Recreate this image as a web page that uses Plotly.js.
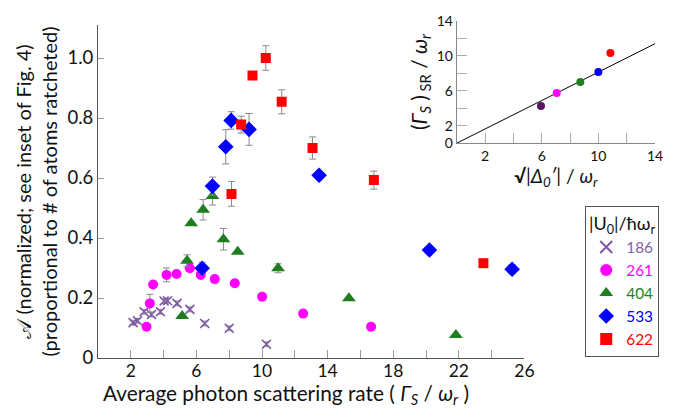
<!DOCTYPE html>
<html>
<head>
<meta charset="utf-8">
<script src="https://cdn.plot.ly/plotly-3.0.1.min.js"></script>
<style>html,body{margin:0;padding:0;background:#fff;}#chart{width:675px;height:409px;}</style>
</head>
<body>
<div id="chart"></div>
<script>
// ---- Main plot data: |U0|/ħωr series ----
const seriesNames = ["186", "261", "404", "533", "622"];

const x186 = [2.14, 2.41, 2.81, 3.26, 3.81, 4.03, 4.24, 4.82, 5.60, 6.51, 8.00, 10.27];
const y186 = [0.118, 0.124, 0.154, 0.145, 0.154, 0.190, 0.191, 0.182, 0.162, 0.115, 0.099, 0.046];
const e186 = [0.008, 0.008, 0.008, 0.008, 0.008, 0.008, 0.008, 0.008, 0.008, 0.008, 0.008, 0.008];

const x261 = [2.96, 3.16, 3.36, 4.18, 4.79, 5.60, 6.27, 7.12, 8.34, 10.01, 12.51, 16.65];
const y261 = [0.104, 0.182, 0.245, 0.277, 0.280, 0.299, 0.277, 0.263, 0.249, 0.204, 0.148, 0.104];
const e261 = [0, 0.030, 0, 0.023, 0, 0, 0, 0, 0, 0.010, 0, 0];

const x404 = [5.13, 5.43, 5.68, 6.41, 6.98, 7.65, 8.52, 10.98, 15.30, 21.82];
const y404 = [0.140, 0.324, 0.449, 0.494, 0.540, 0.396, 0.354, 0.299, 0.199, 0.077];
const e404 = [0, 0.020, 0, 0.034, 0.030, 0.036, 0, 0.015, 0, 0];

const x533 = [6.35, 6.98, 7.79, 8.12, 9.21, 13.48, 20.21, 25.25];
const y533 = [0.299, 0.573, 0.704, 0.792, 0.762, 0.609, 0.360, 0.296];
const e533 = [0.020, 0.030, 0.057, 0.029, 0.053, 0, 0, 0.015];

const x622 = [8.14, 8.73, 9.42, 10.23, 11.20, 13.08, 16.82, 23.50];
const y622 = [0.547, 0.778, 0.942, 1.000, 0.854, 0.700, 0.593, 0.316];
const e622 = [0.041, 0.028, 0.008, 0.041, 0.040, 0.037, 0.030, 0];

// ---- Inset data ----
const insetX = [5.95, 7.06, 8.73, 10.00, 10.85];
const insetY = [4.25, 5.74, 7.00, 8.15, 10.30];
const insetColors = ["#5b1560", "#ff00ff", "#1e821e", "#0000ff", "#ff0000"];
const fitX = [0, 14];
const fitY = [0, 11.37];

// ---- Ticks ----
const mainXTicks = [2, 6, 10, 14, 18, 22, 26];
const mainXMinor = [4, 8, 12, 16, 20, 24];
const mainYTicks = [0, 0.2, 0.4, 0.6, 0.8, 1.0];
const mainYText = ["0", "0.2", "0.4", "0.6", "0.8", "1.0"];
const insetXTicks = [2, 6, 10, 14];
const insetXMinor = [4, 8, 12];
const insetYTicks = [0, 2, 6, 10, 14];
const insetYMinor = [4, 8, 12];

const FONT = "Lato, 'Open Sans', sans-serif";
const errStyle = {type: "data", visible: true, color: "#8a8a8a", thickness: 1, width: 3.5};

function err(arr) { return Object.assign({array: arr}, errStyle); }

const traces = [
  {x: x186, y: y186, error_y: err(e186), type: "scatter", mode: "markers",
   name: '<span style="color:#7e5fae">' + seriesNames[0] + '</span>',
   marker: {symbol: "x-thin-open", size: 9, color: "#7e57a8", line: {color: "#7e57a8", width: 1.6}}},
  {x: x261, y: y261, error_y: err(e261), type: "scatter", mode: "markers",
   name: '<span style="color:#ff00ff">' + seriesNames[1] + '</span>',
   marker: {symbol: "circle", size: 10, color: "#ff00ff"}},
  {x: x404, y: y404, error_y: err(e404), type: "scatter", mode: "markers",
   name: '<span style="color:#1e821e">' + seriesNames[2] + '</span>',
   marker: {symbol: "triangle-up", size: 12, color: "#1e7d1e"}},
  {x: x533, y: y533, error_y: err(e533), type: "scatter", mode: "markers",
   name: '<span style="color:#0000ff">' + seriesNames[3] + '</span>',
   marker: {symbol: "diamond", size: 12, color: "#0000ff"}},
  {x: x622, y: y622, error_y: err(e622), type: "scatter", mode: "markers",
   name: '<span style="color:#ff0000">' + seriesNames[4] + '</span>',
   marker: {symbol: "square", size: 10, color: "#ff0000"}},
  {x: fitX, y: fitY, xaxis: "x2", yaxis: "y2", type: "scatter", mode: "lines",
   line: {color: "#000", width: 1}, showlegend: false, hoverinfo: "skip"},
  {x: insetX, y: insetY, xaxis: "x2", yaxis: "y2", type: "scatter", mode: "markers",
   marker: {size: 8, color: insetColors}, showlegend: false}
];

const minorStyle = (vals, len, col) => ({tickmode: "array", tickvals: vals, ticks: "inside", ticklen: len, tickcolor: col, tickwidth: 1, showgrid: false});

const layout = {
  width: 675, height: 409,
  margin: {l: 98, r: 5, t: 15, b: 51},
  paper_bgcolor: "#fff", plot_bgcolor: "#fff",
  font: {family: FONT, color: "#222"},
  showlegend: true,
  legend: {
    x: 0.8518, y: 0.4431, xanchor: "left", yanchor: "top",
    bordercolor: "#555", borderwidth: 1, bgcolor: "#fff",
    font: {family: FONT, size: 15.4},
    title: {text: "|U<sub>0</sub>|/ħω<sub>r</sub>", side: "top center", font: {family: FONT, size: 18, color: "#111"}},
    tracegroupgap: 0, itemsizing: "constant"
  },
  xaxis: {
    domain: [0, 0.7455], range: [0, 26],
    tickmode: "array", tickvals: mainXTicks,
    ticks: "inside", ticklen: 8, tickcolor: "#9a9a9a", tickwidth: 1,
    minor: minorStyle(mainXMinor, 8, "#9a9a9a"),
    ticklabelstandoff: -3,
    showline: true, linecolor: "#555", linewidth: 1,
    showgrid: false, zeroline: false,
    tickfont: {family: FONT, size: 17.5, color: "#111"}
  },
  yaxis: {
    domain: [0, 0.9708], range: [0, 1.11],
    tickmode: "array", tickvals: mainYTicks, ticktext: mainYText,
    ticks: "inside", ticklen: 6, tickcolor: "#9a9a9a", tickwidth: 1,
    showline: true, linecolor: "#555", linewidth: 1,
    showgrid: false, zeroline: false,
    tickfont: {family: FONT, size: 18.5, color: "#111"},
    title: {text: "𝒜 (normalized; see inset of Fig. 4)<br>(proportional to # of atoms ratcheted)",
            font: {family: FONT, size: 20, color: "#111"}, standoff: 4}
  },
  xaxis2: {
    domain: [0.6271, 0.9738], range: [0, 14], anchor: "y2",
    tickmode: "array", tickvals: insetXTicks,
    ticks: "inside", ticklen: 10, tickcolor: "#aaa", tickwidth: 1,
    minor: minorStyle(insetXMinor, 10, "#aaa"),
    showline: true, linecolor: "#888", linewidth: 1,
    showgrid: false, zeroline: false,
    tickfont: {family: FONT, size: 14, color: "#111"},
    title: {text: "<b>√</b>|<i>Δ<sub>0</sub>′</i>| / <i>ω<sub>r</sub></i>",
            font: {family: FONT, size: 19, color: "#111"}, standoff: 1}
  },
  yaxis2: {
    domain: [0.6262, 0.9834], range: [0, 14], anchor: "x2",
    tickmode: "array", tickvals: insetYTicks,
    ticks: "inside", ticklen: 10, tickcolor: "#aaa", tickwidth: 1,
    minor: minorStyle(insetYMinor, 10, "#aaa"),
    showline: true, linecolor: "#888", linewidth: 1,
    showgrid: false, zeroline: false,
    tickfont: {family: FONT, size: 14, color: "#111"},
    title: {text: "(<i>Γ<sub>S</sub></i> )<sub> SR</sub> / <i>ω<sub>r</sub></i>",
            font: {family: FONT, size: 21, color: "#111"}, standoff: 3}
  },
  annotations: [
    {text: "Average photon scattering rate ( <i>Γ<sub>S</sub></i> / <i>ω<sub>r</sub></i> )",
     xref: "paper", yref: "paper", x: (102 - 98) / 572, y: -51 / 343,
     xanchor: "left", yanchor: "bottom", showarrow: false, borderpad: 0,
     font: {family: FONT, size: 20.8, color: "#111"}}
  ]
};

Plotly.newPlot("chart", traces, layout, {displayModeBar: false, staticPlot: true});
</script>
</body>
</html>
